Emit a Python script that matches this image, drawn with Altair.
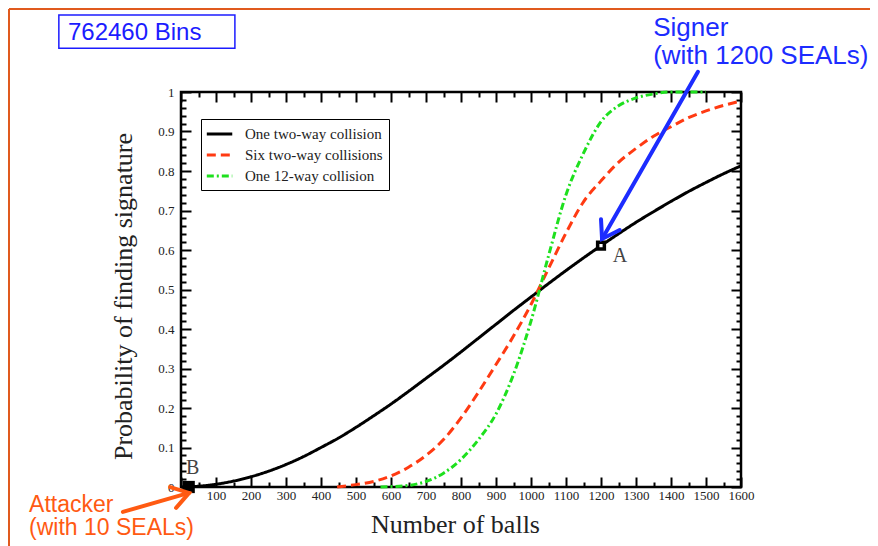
import altair as alt
import pandas as pd

# ---------------- data ----------------
series_names = ["One two-way collision", "Six two-way collisions", "One 12-way collision"]
series_colors = ["#000000", "#ff3a12", "#1ee01e"]
series_dashes = [[1, 0], [9, 5], [7, 3, 2, 3]]

one_two_x = [0, 50, 100, 150, 200, 250, 300, 350, 400, 450, 500, 550, 600, 650, 700, 750, 800,
             850, 900, 950, 1000, 1050, 1100, 1150, 1200, 1250, 1300, 1350, 1400, 1450, 1500, 1550, 1600]
one_two_y = [0.0, 0.002, 0.007, 0.015, 0.026, 0.04, 0.057, 0.077, 0.10, 0.124, 0.151, 0.18, 0.21,
             0.242, 0.275, 0.308, 0.342, 0.377, 0.412, 0.447, 0.481, 0.515, 0.548, 0.58, 0.611,
             0.641, 0.67, 0.697, 0.723, 0.748, 0.771, 0.793, 0.813]

six_two_x = [446, 500, 550, 600, 650, 700, 750, 800, 850, 900, 950, 1000, 1050, 1100, 1150, 1200,
             1250, 1300, 1350, 1400, 1450, 1500, 1550, 1600]
six_two_y = [0.0, 0.006, 0.014, 0.028, 0.05, 0.08, 0.12, 0.175, 0.24, 0.31, 0.382, 0.462, 0.553,
             0.643, 0.722, 0.775, 0.822, 0.857, 0.888, 0.912, 0.935, 0.952, 0.966, 0.977]

twelve_x = [570, 600, 650, 700, 750, 800, 850, 900, 950, 1000, 1050, 1100, 1150, 1200, 1250, 1300,
            1350, 1400, 1450, 1500]
twelve_y = [0.0, 0.001, 0.004, 0.014, 0.035, 0.07, 0.12, 0.185, 0.285, 0.42, 0.585, 0.74, 0.845,
            0.925, 0.965, 0.985, 0.995, 1.0, 1.0, 1.0]

point_names = ["A", "B"]
point_x = [1200, 22]
point_y = [0.611, 0.0]

x_major = [0, 100, 200, 300, 400, 500, 600, 700, 800, 900, 1000, 1100, 1200, 1300, 1400, 1500, 1600]
x_minor = [50, 150, 250, 350, 450, 550, 650, 750, 850, 950, 1050, 1150, 1250, 1350, 1450, 1550]
y_major = [0, 0.1, 0.2, 0.3, 0.4, 0.5, 0.6, 0.7, 0.8, 0.9, 1.0]
y_minor = [0.02, 0.04, 0.06, 0.08, 0.12, 0.14, 0.16, 0.18, 0.22, 0.24, 0.26, 0.28, 0.32, 0.34,
           0.36, 0.38, 0.42, 0.44, 0.46, 0.48, 0.52, 0.54, 0.56, 0.58, 0.62, 0.64, 0.66, 0.68,
           0.72, 0.74, 0.76, 0.78, 0.82, 0.84, 0.86, 0.88, 0.92, 0.94, 0.96, 0.98]

note_text = ["762460 Bins", "Signer", "(with 1200 SEALs)", "Attacker", "(with 10 SEALs)"]
note_x = [-323, 1349, 1349, -434, -434]
note_y = [1.132, 1.142, 1.071, -0.063, -0.1215]
note_color = ["#1c1cff", "#1c2cff", "#1c2cff", "#ff5a12", "#ff5a12"]
note_size = [24, 26, 26, 23, 23]

arrow_x = [1477, -166]
arrow_y = [1.051, -0.063]
arrow_x2 = [1203, 23]
arrow_y2 = [0.628, -0.015]
arrow_color = ["#1c2cff", "#ff5a12"]
arrow_angle = [120, 344]

box_x = [-349]
box_x2 = [154]
box_y = [1.195]
box_y2 = [1.111]

# ---------------- frames ----------------
rows = []
for name, xs_, ys_ in zip(series_names, [one_two_x, six_two_x, twelve_x], [one_two_y, six_two_y, twelve_y]):
    for a, b in zip(xs_, ys_):
        rows.append({"series": name, "balls": a, "prob": b})
curves = pd.DataFrame(rows)
points = pd.DataFrame({"name": point_names, "balls": point_x, "prob": point_y})
notes = pd.DataFrame({"text": note_text, "balls": note_x, "prob": note_y,
                      "color": note_color, "size": note_size})
arrows = pd.DataFrame({"balls": arrow_x, "prob": arrow_y, "balls2": arrow_x2, "prob2": arrow_y2,
                       "color": arrow_color, "angle": arrow_angle})
box = pd.DataFrame({"balls": box_x, "balls2": box_x2, "prob": box_y, "prob2": box_y2})

SERIF = "Liberation Serif"
SANS = "Liberation Sans"
XS = alt.Scale(domain=[0, 1600], nice=False, zero=False)
YS = alt.Scale(domain=[0, 1], nice=False, zero=False)


def xaxis(orient, values, size, labels=False, title=None):
    kw = dict(orient=orient, values=values, offset=-size, tickSize=size, tickWidth=2,
              tickColor="black", domain=False, grid=False, labels=labels)
    if labels:
        kw.update(labelFont=SERIF, labelFontSize=13, labelColor="#222", labelPadding=2,
                  labelOverlap=False, labelFlush=False, format="d",
                  labelExpr="datum.value == 0 ? '' : datum.label")
    if title:
        kw.update(title=title, titleFont=SERIF, titleFontSize=26, titleFontWeight="normal",
                  titleColor="#222", titleX=274, titleY=55, titleBaseline="alphabetic",
                  titleAlign="center")
    else:
        kw.update(title=None)
    return alt.Axis(**kw)


def yaxis(orient, values, size, labels=False, title=None):
    kw = dict(orient=orient, values=values, offset=-size, tickSize=size, tickWidth=2,
              tickColor="black", domain=False, grid=False, labels=labels)
    if labels:
        kw.update(labelFont=SERIF, labelFontSize=13, labelColor="#222", labelPadding=7,
                  labelOverlap=False, labelFlush=False, format="~g")
    if title:
        kw.update(title=title, titleFont=SERIF, titleFontSize=26, titleFontWeight="normal",
                  titleColor="#222", titleX=-68, titleY=204, titleBaseline="middle",
                  titleAlign="center", titleAngle=270)
    else:
        kw.update(title=None)
    return alt.Axis(**kw)


legend = alt.Legend(title=None, orient="none", legendX=20, legendY=27, strokeColor="black",
                    fillColor="white", padding=6, labelFont=SERIF, labelFontSize=15,
                    labelColor="#222", symbolType="M-1.3,0H2.3", symbolSize=200,
                    symbolStrokeWidth=3, rowPadding=4, labelOffset=20)

lines = alt.Chart(curves).mark_line(strokeWidth=3, interpolate="monotone").encode(
    x=alt.X("balls:Q", scale=XS, axis=xaxis("bottom", x_major, 10, labels=True, title="Number of balls")),
    y=alt.Y("prob:Q", scale=YS, axis=yaxis("left", y_major, 10, labels=True,
                                           title="Probability of finding signature")),
    color=alt.Color("series:N", scale=alt.Scale(domain=series_names, range=series_colors), legend=legend),
    strokeDash=alt.StrokeDash("series:N", scale=alt.Scale(domain=series_names, range=series_dashes),
                              legend=legend),
    order="balls:Q",
)

point_a = alt.Chart(points).transform_filter("datum.name == 'A'").mark_square(
    size=45, fill="white", stroke="black", strokeWidth=3.5, opacity=1).encode(
    x=alt.X("balls:Q", scale=XS, axis=xaxis("bottom", x_minor, 5)),
    y=alt.Y("prob:Q", scale=YS, axis=yaxis("left", y_minor, 5)),
)

point_b = alt.Chart(points).transform_filter("datum.name == 'B'").mark_square(
    size=150, color="black", opacity=1).encode(
    x=alt.X("balls:Q", scale=XS, axis=xaxis("top", x_major, 10)),
    y=alt.Y("prob:Q", scale=YS, axis=yaxis("right", y_major, 10)),
)

label_a = alt.Chart(points).transform_filter("datum.name == 'A'").mark_text(
    font=SERIF, fontSize=20, color="#444", dx=19, dy=10, align="center", baseline="middle").encode(
    x=alt.X("balls:Q", scale=XS, axis=xaxis("top", x_minor, 5)),
    y=alt.Y("prob:Q", scale=YS, axis=yaxis("right", y_minor, 5)),
    text="name:N",
)

label_b = alt.Chart(points).transform_filter("datum.name == 'B'").mark_text(
    font=SERIF, fontSize=20, color="#444", dx=4, dy=-19, align="center", baseline="middle").encode(
    x=alt.X("balls:Q", scale=XS, axis=None),
    y=alt.Y("prob:Q", scale=YS, axis=None),
    text="name:N",
)

bins_box = alt.Chart(box).mark_rect(fillOpacity=0, stroke="#1c1cff", strokeWidth=1.5).encode(
    x=alt.X("balls:Q", scale=XS, axis=None), x2="balls2:Q",
    y=alt.Y("prob:Q", scale=YS, axis=None), y2="prob2:Q",
)

note_marks = alt.Chart(notes).mark_text(font=SANS, align="left", baseline="alphabetic").encode(
    x=alt.X("balls:Q", scale=XS, axis=None),
    y=alt.Y("prob:Q", scale=YS, axis=None),
    text="text:N",
    color=alt.Color("color:N", scale=None),
    size=alt.Size("size:Q", scale=None),
)

shafts = alt.Chart(arrows).mark_rule(strokeWidth=4, strokeCap="round").encode(
    x=alt.X("balls:Q", scale=XS, axis=None), x2="balls2:Q",
    y=alt.Y("prob:Q", scale=YS, axis=None), y2="prob2:Q",
    color=alt.Color("color:N", scale=None),
)

heads = alt.Chart(arrows).mark_point(shape="M-1,-0.65L0,0L-1,0.65", filled=False, size=1100,
                                     strokeWidth=4, strokeCap="round", opacity=1).encode(
    x=alt.X("balls2:Q", scale=XS, axis=None),
    y=alt.Y("prob2:Q", scale=YS, axis=None),
    color=alt.Color("color:N", scale=None),
    angle=alt.Angle("angle:Q", scale=None),
)

border_top = alt.Chart(box).mark_rule(color="#e05a1e", strokeWidth=2).encode(
    x=alt.value(-172), x2=alt.value(689), y=alt.value(-83))
border_left = alt.Chart(box).mark_rule(color="#e05a1e", strokeWidth=2).encode(
    x=alt.value(-172), y=alt.value(-83), y2=alt.value(454))

chart = alt.layer(
    border_top, border_left, lines, point_a, point_b, label_a, label_b,
    bins_box, note_marks, shafts, heads,
).resolve_axis(x="independent", y="independent").properties(
    width=560, height=395,
    autosize=alt.AutoSizeParams(type="none"),
    padding={"left": 173, "top": 84, "right": 129, "bottom": 59},
).configure_view(stroke="black", strokeWidth=2.5)

chart.save("out.html", embed_options={"renderer": "svg", "actions": False})
